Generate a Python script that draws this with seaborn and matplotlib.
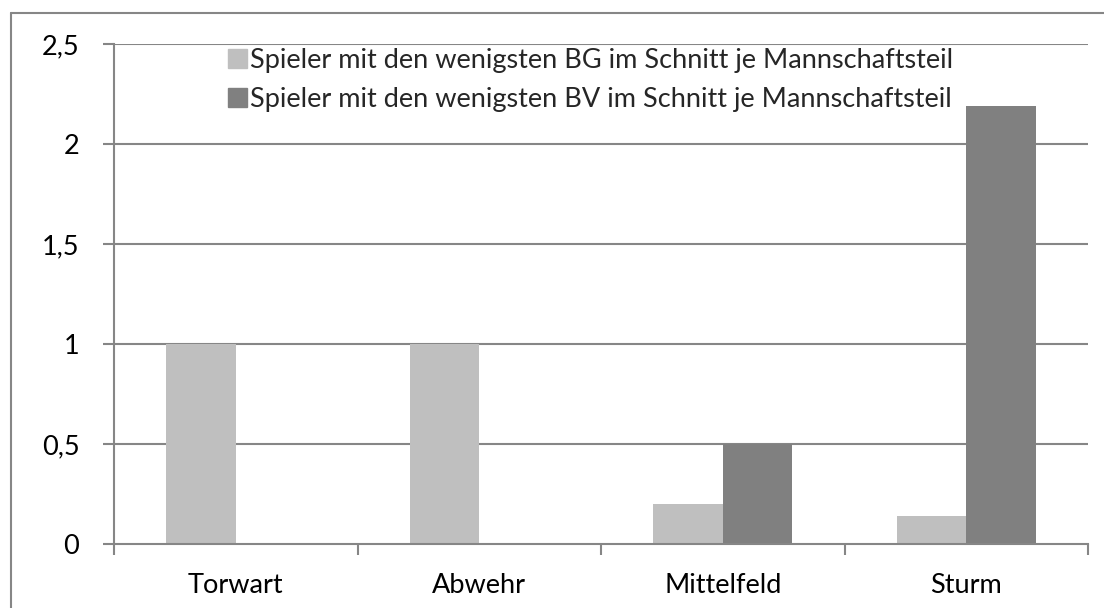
import numpy as np
import pandas as pd
import matplotlib
matplotlib.use("Agg")
import matplotlib.pyplot as plt
from matplotlib.lines import Line2D
from matplotlib.ticker import FuncFormatter
import seaborn as sns

categories = ["Torwart", "Abwehr", "Mittelfeld", "Sturm"]
bg_values = [1.0, 1.0, 0.2, 0.14]
bv_values = [0.0, 0.0, 0.5, 2.19]
series_names = ["Spieler mit den wenigsten BG im Schnitt je Mannschaftsteil",
                "Spieler mit den wenigsten BV im Schnitt je Mannschaftsteil"]
colors = ["#bfbfbf", "#808080"]

df = pd.DataFrame({
    "Teil": categories * 2,
    "Wert": bg_values + bv_values,
    "Serie": [series_names[0]] * 4 + [series_names[1]] * 4,
})

sns.set_style("white")
plt.rcParams["font.family"] = ["Lato", "DejaVu Sans"]
grey = "#868686"
fs = 19.5

fig = plt.figure(figsize=(11.04, 6.08), dpi=100)
ax = fig.add_axes([114 / 1104, 1 - 544 / 608, (1088 - 114) / 1104, 500 / 608])

ax.set_axisbelow(True)
for y in np.arange(0.5, 2.51, 0.5):
    ax.axhline(y, color=grey, lw=1.5, zorder=0)

sns.barplot(data=df, x="Teil", y="Wert", hue="Serie", palette=colors,
            width=2 / 3.5, saturation=1, ax=ax, legend=False)
for p in ax.patches:
    p.set_edgecolor("none")

ax.set_ylim(0, 2.5)
ax.set_xlim(-0.5, 3.5)
ax.set_yticks(np.arange(0, 2.51, 0.5))
ax.yaxis.set_major_formatter(FuncFormatter(
    lambda v, pos: ("%g" % v).replace(".", ",")))
ax.set_xlabel("")
ax.set_ylabel("")

ax.set_xticks([-0.5, 0.5, 1.5, 2.5, 3.5], minor=True)
ax.tick_params(axis="x", which="major", bottom=True, length=0, pad=21,
               labelsize=fs, labelcolor="black")
ax.tick_params(axis="x", which="minor", bottom=True, length=8, width=1.5,
               color=grey, direction="out")
ax.tick_params(axis="y", left=True, length=8, width=1.5, color=grey, direction="out",
               pad=17, labelsize=fs, labelcolor="black")

for s in ["top", "right"]:
    ax.spines[s].set_visible(False)
for s in ["left", "bottom"]:
    ax.spines[s].set_color(grey)
    ax.spines[s].set_linewidth(1.5)

handles = [plt.Rectangle((0, 0), 1, 1, color=c) for c in colors]
ax.legend(handles, series_names, loc="upper left", bbox_to_anchor=(228 / 1104, 1 - 48 / 608),
          bbox_transform=fig.transFigure, frameon=False, fontsize=fs,
          handlelength=0.7, handleheight=0.7, handletextpad=0.12,
          labelspacing=0.5, borderpad=0, borderaxespad=0)

# chart border (only left and top visible in crop)
fig.add_artist(Line2D([11 / 1104, 11 / 1104], [0, 1 - 13 / 608], color=grey, lw=1.5))
fig.add_artist(Line2D([11 / 1104, 1], [1 - 13 / 608, 1 - 13 / 608], color=grey, lw=1.5))

fig.savefig("out.png", dpi=100, facecolor="white")
